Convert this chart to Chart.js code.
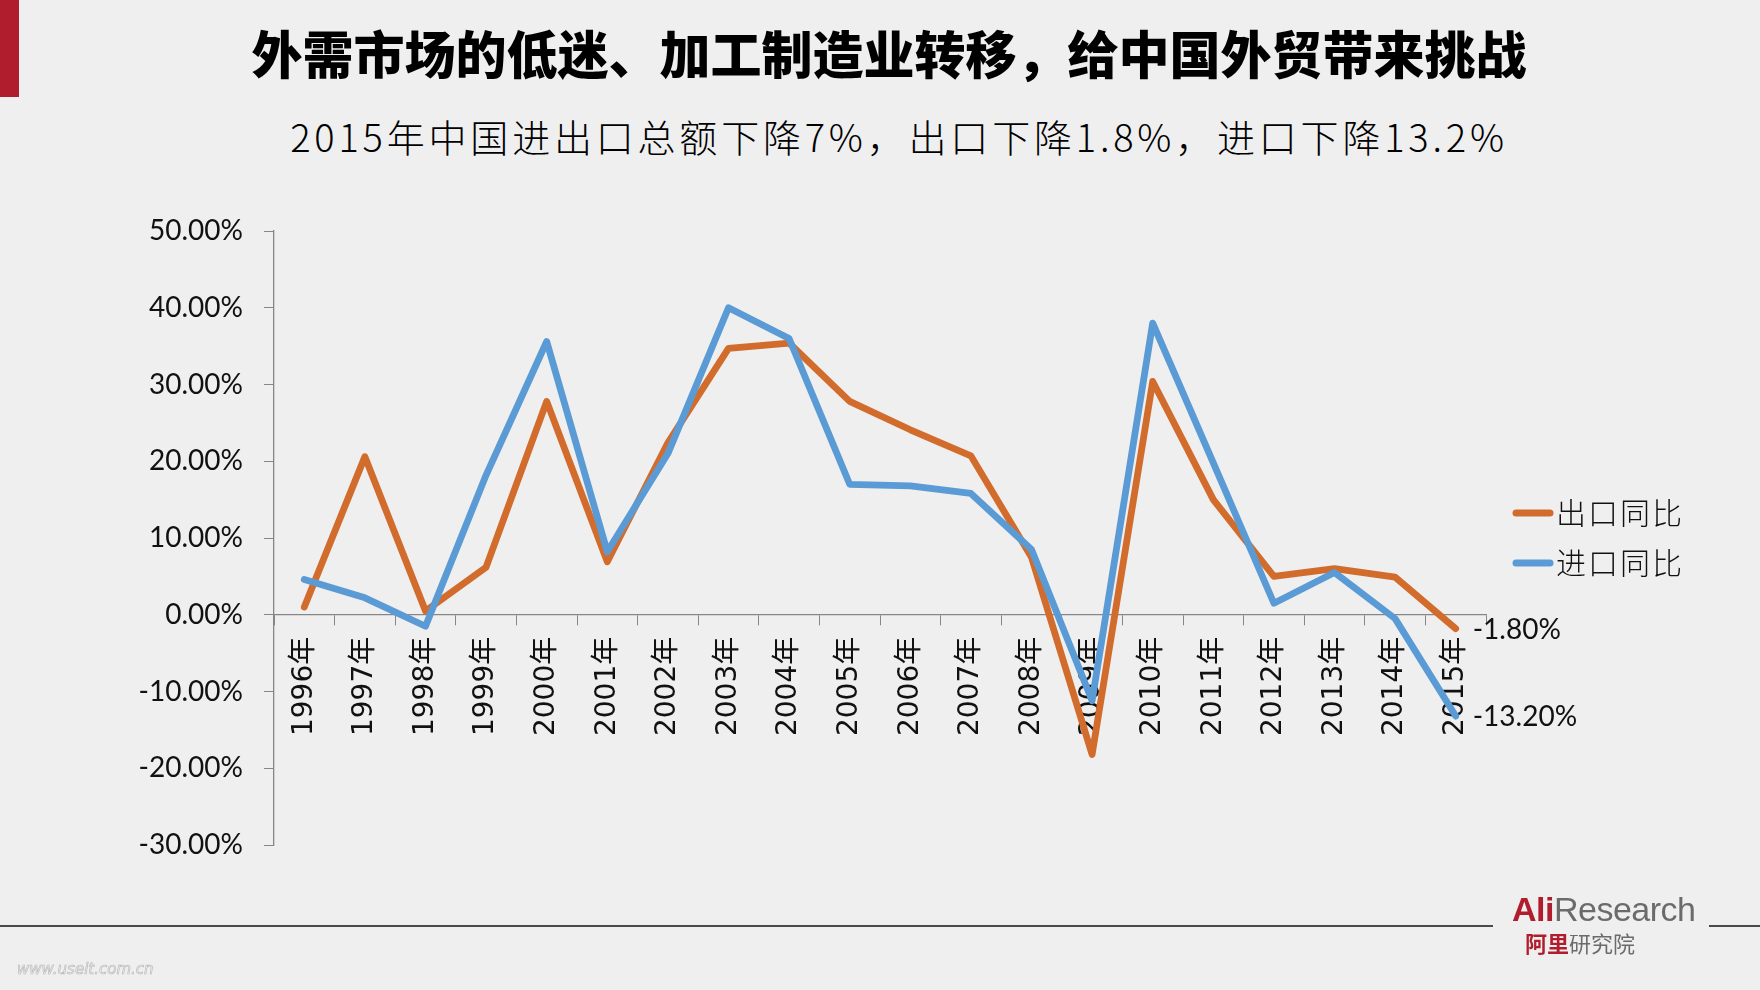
<!DOCTYPE html>
<html>
<head>
<meta charset="utf-8">
<script src="https://cdn.jsdelivr.net/npm/chart.js@4.4.1/dist/chart.umd.min.js"></script>
<style>
body { margin: 0; width: 1760px; height: 990px; overflow: hidden; position: relative; background: #efefef; font-family: 'Noto Sans CJK SC', sans-serif; }
#redBar { position: absolute; left: 0; top: 0; width: 19px; height: 97px; background: #b01e2d; }
#title { position: absolute; left: 0; width: 1778px; top: 20px; text-align: center; font-size: 51px; font-weight: 900; color: #000; line-height: 64px; }
#subtitle { position: absolute; left: 0; width: 1798px; top: 110px; text-align: center; font-size: 38px; font-weight: 300; color: #000; letter-spacing: 3.8px; line-height: 52px; }
#chart { position: absolute; left: 0; top: 0; }
.rule { position: absolute; top: 925px; height: 2px; background: #4a4a4a; }
#ruleLeft { left: 0; width: 1493px; }
#ruleRight { left: 1709px; width: 51px; }
#logo { position: absolute; left: 1512px; top: 888px; font-family: 'Liberation Sans', sans-serif; font-size: 34px; line-height: 42px; letter-spacing: -0.5px; }
#logoCn { position: absolute; left: 1525px; top: 928px; font-size: 22px; line-height: 28px; }
.ali { color: #b01e2d; font-weight: 700; }
.res { color: #6b6b6b; }
#mark { position: absolute; left: 17px; top: 960px; font-family: 'DejaVu Sans', sans-serif; font-size: 15px; color: transparent; -webkit-text-stroke: 0.6px #b5b5b5; font-style: italic; }
</style>
</head>
<body>
<div id="redBar"></div>
<div id="title">外需市场的低迷、加工制造业转移，给中国外贸带来挑战</div>
<div id="subtitle">2015年中国进出口总额下降7%，出口下降1.8%，进口下降13.2%</div>
<canvas id="chart" width="1760" height="990"></canvas>
<div class="rule" id="ruleLeft"></div>
<div class="rule" id="ruleRight"></div>
<div id="logo"><span class="ali">Ali</span><span class="res">Research</span></div>
<div id="logoCn"><span class="ali">阿里</span><span class="res">研究院</span></div>
<div id="mark">www.useit.com.cn</div>
<script>
// data (year-on-year growth, %)
const years = ['1996年', '1997年', '1998年', '1999年', '2000年', '2001年', '2002年', '2003年', '2004年', '2005年',
    '2006年', '2007年', '2008年', '2009年', '2010年', '2011年', '2012年', '2013年', '2014年', '2015年'];
const exportGrowth = [1.0, 20.6, 0.5, 6.2, 27.8, 6.9, 22.4, 34.7, 35.4, 27.8,
    24.1, 20.7, 7.5, -18.2, 30.4, 15.0, 5.0, 6.0, 4.9, -1.8];
const importGrowth = [4.6, 2.2, -1.5, 18.2, 35.6, 8.2, 21.0, 40.0, 36.0, 17.0,
    16.8, 15.8, 8.5, -11.2, 38.0, 19.8, 1.5, 5.5, -0.5, -13.2];
const seriesNames = ['出口同比', '进口同比'];
const yMin = -30;
const yMax = 50;
const yStep = 10;

const orange = '#d26c2c';
const blue = '#5b9bd5';
const axisColor = '#868686';
const numFont = "Lato, 'Open Sans', sans-serif";

function pct(v) {
    return v.toFixed(2) + '%';
}

// value label next to the last point of each line
const endLabels = {
    id: 'endLabels',
    afterDatasetsDraw(chart) {
        const ctx = chart.ctx;
        ctx.save();
        ctx.font = '28px ' + numFont;
        ctx.fillStyle = '#111';
        ctx.textAlign = 'left';
        ctx.textBaseline = 'middle';
        chart.data.datasets.forEach((ds, i) => {
            const pts = chart.getDatasetMeta(i).data;
            const last = pts[pts.length - 1];
            ctx.fillText(pct(ds.data[ds.data.length - 1]), last.x + 17, last.y + 1);
        });
        ctx.restore();
    }
};

// legend on the right, built from the datasets
const sideLegend = {
    id: 'sideLegend',
    afterDraw(chart) {
        const ctx = chart.ctx;
        ctx.save();
        ctx.font = "300 30px 'Noto Sans CJK SC', sans-serif";
        ctx.letterSpacing = '2px';
        ctx.textBaseline = 'middle';
        chart.data.datasets.forEach((ds, i) => {
            const y = 513 + i * 50;
            ctx.strokeStyle = ds.borderColor;
            ctx.lineWidth = 7;
            ctx.lineCap = 'round';
            ctx.beginPath();
            ctx.moveTo(1516, y);
            ctx.lineTo(1550, y);
            ctx.stroke();
            ctx.fillStyle = '#111';
            ctx.fillText(ds.label, 1556, y);
        });
        ctx.restore();
    }
};

const chart = new Chart(document.getElementById('chart'), {
    type: 'line',
    data: {
        labels: years,
        datasets: [
            {
                label: seriesNames[0],
                data: exportGrowth,
                borderColor: orange,
                backgroundColor: orange,
                order: 1
            },
            {
                label: seriesNames[1],
                data: importGrowth,
                borderColor: blue,
                backgroundColor: blue,
                order: 0
            }
        ]
    },
    options: {
        responsive: false,
        animation: false,
        devicePixelRatio: 1,
        layout: {
            padding: { left: 0, top: 231, right: 274, bottom: 145 }
        },
        elements: {
            line: {
                borderWidth: 6.8,
                tension: 0,
                borderJoinStyle: 'round',
                borderCapStyle: 'round'
            },
            point: { radius: 0, hoverRadius: 0 }
        },
        plugins: {
            legend: { display: false },
            tooltip: { enabled: false }
        },
        scales: {
            x: {
                position: { y: 0 },
                offset: true,
                border: { color: axisColor, width: 1.3 },
                grid: {
                    offset: true,
                    drawOnChartArea: false,
                    drawTicks: true,
                    tickLength: 10,
                    color: axisColor
                },
                ticks: {
                    minRotation: 90,
                    maxRotation: 90,
                    autoSkip: false,
                    padding: 12,
                    color: '#111',
                    font: { family: "'DejaVu Sans', 'Noto Sans CJK SC', sans-serif", size: 28 }
                }
            },
            y: {
                min: yMin,
                max: yMax,
                border: { color: axisColor, width: 1.3 },
                grid: {
                    drawOnChartArea: false,
                    drawTicks: true,
                    tickLength: 10,
                    color: axisColor
                },
                ticks: {
                    stepSize: yStep,
                    padding: 21,
                    color: '#111',
                    font: { family: numFont, size: 28 },
                    callback: v => pct(v)
                },
                afterFit(scale) {
                    scale.width = 274;
                }
            }
        }
    },
    plugins: [endLabels, sideLegend]
});
</script>
</body>
</html>
